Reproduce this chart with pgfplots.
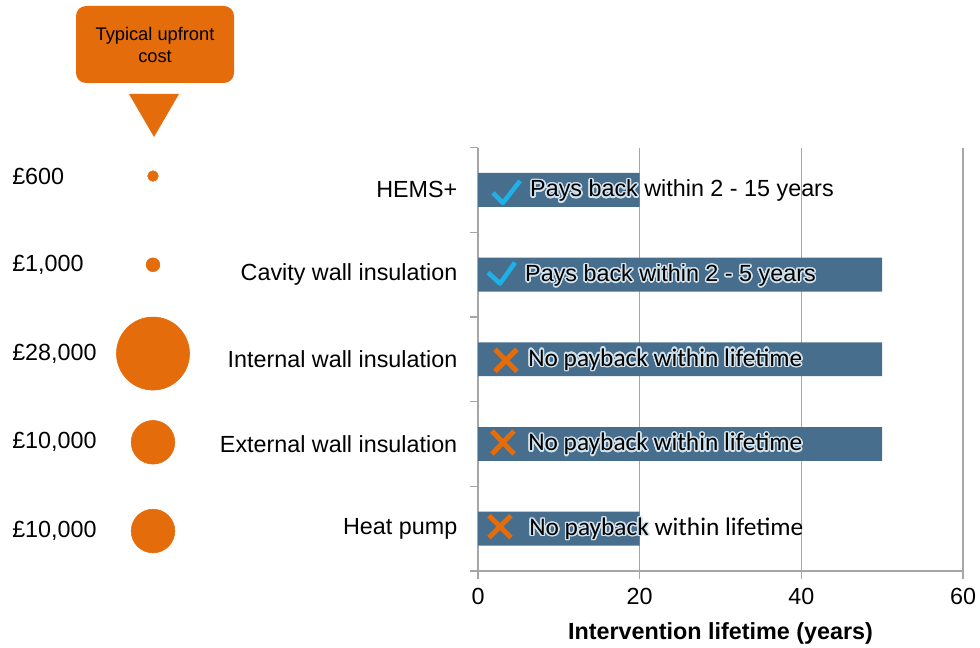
\documentclass[border=0pt]{standalone}
\usepackage{pgfplots}
\pgfplotsset{compat=1.18}
\usepackage{pgfplotstable}
\usepackage{fontspec}
\setmainfont{Liberation Sans}
\newfontfamily\carlito{Carlito}
\usepackage{contour}
\contourlength{1.1pt}
\contournumber{24}
\definecolor{orng}{HTML}{E46C0A}
\definecolor{barblue}{HTML}{476F8D}
\definecolor{chk}{HTML}{1DB1E8}
\definecolor{gridgray}{HTML}{A6A6A6}
\definecolor{glow}{HTML}{D2E2EC}

\pgfplotstableread{
y life
4 20
3 50
2 50
1 50
0 20
}\lifetable
\pgfplotstableread{
x y cost
153 4 600
153 3 1000
153 2 28000
153 1 10000
153 0 10000
}\costtable

\begin{document}
\begin{tikzpicture}[x=0.75pt,y=0.75pt]
\useasboundingbox (0,0) rectangle (980,647);
% callout
\fill[orng, rounded corners=7.5pt] (76,564) rectangle (234,641);
\fill[orng] (129,553) -- (179,553) -- (154,510) -- cycle;
\node[align=center, font=\fontsize{13.7}{16.5}\selectfont, text=black] at (155,602) {Typical upfront\\cost};

% bubbles
\begin{axis}[name=bub, at={(9pt,53.7pt)}, anchor=south west, scale only axis,
  width=349.5pt, height=332.8pt, xmin=12, xmax=478, ymin=-0.5, ymax=4.5,
  axis line style={draw=none}, xtick=\empty, ytick={0,...,4},
  yticklabels={{£10,000},{£10,000},{£28,000},{£1,000},{£600}},
  major tick length=0pt, tick style={draw=none},
  yticklabel style={anchor=west, inner sep=0pt, font=\fontsize{17.5}{21}\selectfont},
  clip=false]
\addplot[scatter, only marks, mark=*,
  scatter/use mapped color={draw=orng, fill=orng},
  visualization depends on={27.4*sqrt(\thisrow{cost}/28000) \as \rad},
  scatter/@pre marker code/.append style={/tikz/mark size=\rad pt}]
  table[x=x, y=y] {\costtable};
\end{axis}

% bars
\begin{axis}[at={(358.5pt,57pt)}, anchor=south west, scale only axis,
  width=363.75pt, height=317.6pt, xmin=0, xmax=60, ymin=-0.5, ymax=4.5,
  xbar, bar width=0.4,
  xtick={0,20,40,60}, ytick={0,...,4},
  yticklabels={Heat pump, External wall insulation, Internal wall insulation, Cavity wall insulation, HEMS+},
  minor ytick={-0.5,0.5,...,4.5},
  axis x line*=bottom, axis y line*=left,
  axis line style={gridgray, line width=1pt, -},
  tick style={gridgray, line width=1pt},
  major y tick style={draw=none},
  tick align=outside, major tick length=6pt, minor tick length=6pt,
  xmajorgrids=true, grid style={gridgray, line width=1pt},
  /pgf/number format/assume math mode=true,
  tick label style={font=\fontsize{17.5}{21}\selectfont},
  yticklabel style={xshift=-6pt},
  xticklabel style={yshift=-3pt},
  xlabel={\bfseries Intervention lifetime (years)},
  xlabel style={font=\fontsize{17.5}{21}\selectfont, at={(axis description cs:0.5,0)}, anchor=center, yshift=-46.5pt},
  clip=false]
\addplot[fill=barblue, draw=none] table[x=life, y=y] {\lifetable};
% icons
\draw[chk, line width=3.4pt, line join=round] (axis cs:1.86,3.965) -- (axis cs:3.09,3.847) -- (axis cs:5.20,4.106);
\draw[chk, line width=3.4pt, line join=round] (axis cs:1.24,3.024) -- (axis cs:2.72,2.894) -- (axis cs:4.58,3.142);
\draw[orng, line width=3.75pt] (axis cs:2.10,2.118) -- (axis cs:4.82,1.858) (axis cs:2.10,1.858) -- (axis cs:4.82,2.118);
\draw[orng, line width=3.75pt] (axis cs:1.73,1.153) -- (axis cs:4.45,0.882) (axis cs:1.73,0.882) -- (axis cs:4.45,1.153);
\draw[orng, line width=3.75pt] (axis cs:1.36,0.153) -- (axis cs:4.08,-0.106) (axis cs:1.36,-0.106) -- (axis cs:4.08,0.153);
% texts
\node[anchor=west, inner sep=0pt, font=\fontsize{17.5}{21}\selectfont] at (axis cs:6.43,3.98) {\contour{glow}{Pays back} within 2 - 15 years};
\node[anchor=west, inner sep=0pt, font=\fontsize{17.5}{21}\selectfont] at (axis cs:5.81,2.98) {\contour{glow}{Pays back within 2 - 5 years}};
\node[anchor=west, inner sep=0pt, font=\carlito\fontsize{19}{23}\selectfont] at (axis cs:6.19,1.99) {\contour{glow}{No payback within lifetime}};
\node[anchor=west, inner sep=0pt, font=\carlito\fontsize{19}{23}\selectfont] at (axis cs:6.19,0.99) {\contour{glow}{No payback within lifetime}};
\node[anchor=west, inner sep=0pt, font=\carlito\fontsize{19}{23}\selectfont] at (axis cs:6.31,-0.01) {\contour{glow}{No payback} within lifetime};
\end{axis}
\end{tikzpicture}
\end{document}
